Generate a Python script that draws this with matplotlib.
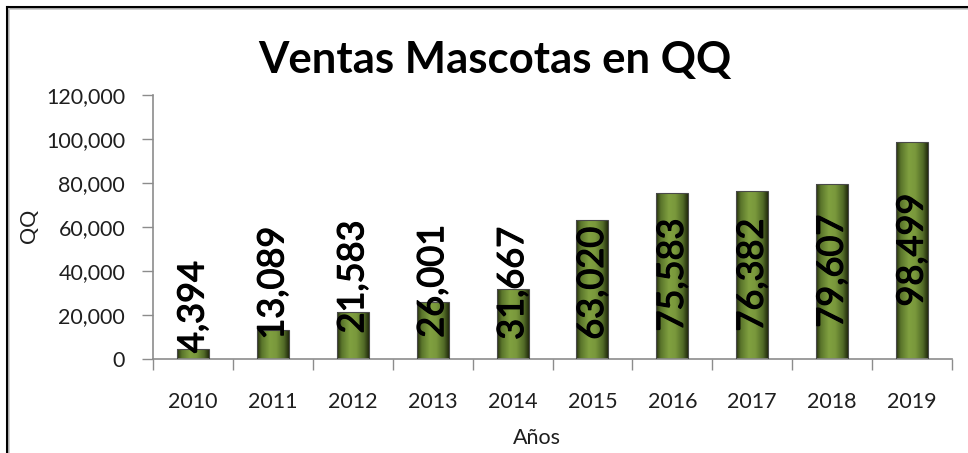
import matplotlib
matplotlib.use("Agg")
import matplotlib.pyplot as plt
import matplotlib.patheffects as pe
import numpy as np
from matplotlib.colors import LinearSegmentedColormap
from matplotlib.lines import Line2D

# ---- data ----
years = ["2010", "2011", "2012", "2013", "2014", "2015", "2016", "2017", "2018", "2019"]
ventas = [4394, 13089, 21583, 26001, 31667, 63020, 75583, 76382, 79607, 98499]
# vertical centre of each value label (data units)
label_centres = [23600, 34500, 37300, 35400, 34500, 34500, 38200, 38200, 40000, 49500]
y_ticks = [0, 20000, 40000, 60000, 80000, 100000, 120000]

title = "Ventas Mascotas en QQ"
x_title = "Años"
y_title = "QQ"

# ---- style ----
FONT = ["Lato", "DejaVu Sans"]
TXT = "#1e1e1e"
AXC = "#8c8c8c"

plt.rcParams["font.family"] = FONT

W, H = 968, 453
fig = plt.figure(figsize=(W / 100, H / 100), dpi=100)
fig.patch.set_facecolor("white")

L, R, T, B = 153, 952, 95, 359
ax = fig.add_axes([L / W, 1 - B / H, (R - L) / W, (B - T) / H])
ax.set_facecolor("white")

x = np.arange(len(years))
bars = ax.bar(x, ventas, width=0.4, color="none", edgecolor="#4a4a4a",
              linewidth=0.8, zorder=3)

# horizontal gradient inside each bar
cmap = LinearSegmentedColormap.from_list(
    "g", [(0.0, "#232c0c"), (0.15, "#5a752b"), (0.4, "#80a040"),
          (0.6, "#7a993c"), (0.85, "#516a27"), (1.0, "#222a0b")])
grad = np.linspace(0, 1, 256).reshape(1, -1)
for b in bars:
    bx, by, bw, bh = b.get_x(), b.get_y(), b.get_width(), b.get_height()
    im = ax.imshow(grad, cmap=cmap, aspect="auto",
                   extent=[bx, bx + bw, by, by + bh], zorder=2,
                   interpolation="bilinear")
    im.set_clip_path(b)

for xi, v, c in zip(x, ventas, label_centres):
    ax.text(xi, c, f"{v:,}", rotation=90, ha="center", va="center",
            fontsize=26, color="black", zorder=4,
            path_effects=[pe.withStroke(linewidth=0.9, foreground="black")])

ax.set_xlim(-0.5, len(years) - 0.5)
ax.set_ylim(0, 120000)

ax.set_yticks(y_ticks)
ax.set_yticklabels([f"{t:,}" for t in y_ticks], fontsize=15.5, color=TXT)
ax.tick_params(axis="y", direction="out", length=8, width=1, color=AXC, pad=12)

ax.set_xticks(np.arange(len(years) + 1) - 0.5)
ax.set_xticklabels([])
ax.set_xticks(x, minor=True)
ax.set_xticklabels(years, minor=True, fontsize=15.5, color=TXT)
ax.tick_params(axis="x", which="major", direction="out", length=8, width=1, color=AXC)
ax.tick_params(axis="x", which="minor", length=0, pad=24)

for s in ["top", "right"]:
    ax.spines[s].set_visible(False)
for s in ["left", "bottom"]:
    ax.spines[s].set_color(AXC)
    ax.spines[s].set_linewidth(1.2)

fig.text(495 / W, 1 - 60 / H, title, ha="center", va="center",
         fontsize=31.5, fontweight="bold", color="black")
fig.text(537 / W, 1 - 438 / H, x_title, ha="center", va="center",
         fontsize=15.5, color=TXT)
fig.text(29 / W, 1 - 226 / H, y_title, ha="center", va="center",
         fontsize=15.5, color=TXT, rotation=90)

# chart-area frame (left and top edges visible in the crop)
fig.add_artist(Line2D([6.5 / W, 6.5 / W], [0, 1 - 6.5 / H], transform=fig.transFigure,
                      color="black", linewidth=2.2))
fig.add_artist(Line2D([6.5 / W, 1], [1 - 6.5 / H, 1 - 6.5 / H], transform=fig.transFigure,
                      color="black", linewidth=2.2))
fig.add_artist(Line2D([9 / W, 9 / W], [0, 1 - 9 / H], transform=fig.transFigure,
                      color="#c8c8c8", linewidth=1.2))
fig.add_artist(Line2D([9 / W, 1], [1 - 9 / H, 1 - 9 / H], transform=fig.transFigure,
                      color="#c8c8c8", linewidth=1.2))

fig.savefig("out.png", dpi=100, facecolor="white")
